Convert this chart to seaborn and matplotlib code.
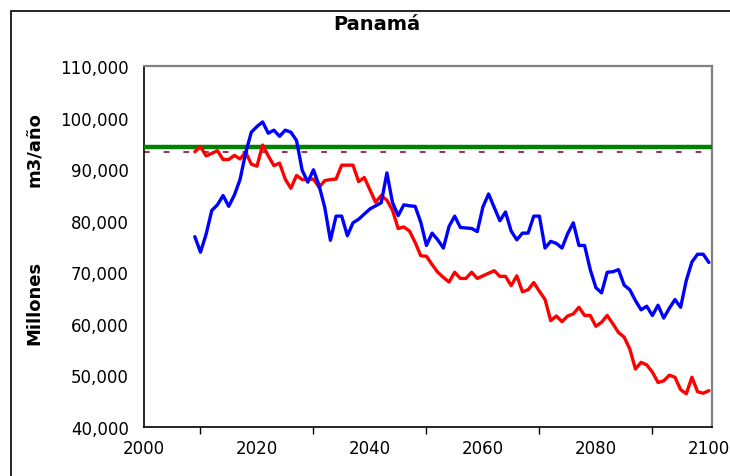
import numpy as np
import pandas as pd
import seaborn as sns
import matplotlib.pyplot as plt
from matplotlib.patches import Rectangle
from matplotlib.ticker import FuncFormatter, MultipleLocator

sns.set_theme(style="white")
plt.rcParams['font.family'] = ['DejaVu Sans']
plt.rcParams['text.color'] = 'black'

years = list(range(2009, 2101))

blue_vals = [76900, 73900, 77400, 82000, 83100, 84900, 82800, 85000, 88000, 93200,
             97200, 98300, 99200, 97000, 97600, 96400, 97600, 97200, 95600, 89800,
             87500, 89900, 86800, 82600, 76200, 80900, 80900, 77100, 79600, 80300,
             81300, 82300, 82900, 83500, 89300, 83500, 81000, 83100, 82900, 82800,
             79700, 75200, 77600, 76300, 74700, 78900, 80900, 78700, 78600, 78500,
             77900, 82700, 85200, 82600, 80000, 81700, 78000, 76300, 77600, 77600,
             80900, 80900, 74700, 76000, 75600, 74700, 77500, 79600, 75200, 75200,
             70500, 67000, 66000, 70000, 70100, 70500, 67500, 66600, 64500, 62700,
             63400, 61600, 63600, 61100, 63000, 64700, 63200, 68400, 72000, 73500,
             73500, 71900]

red_vals = [93400, 94400, 92600, 93100, 93600, 91900, 91900, 92700, 92000, 93300,
            91000, 90600, 94700, 92600, 90700, 91200, 88100, 86300, 88800, 88000,
            88000, 88100, 86500, 87800, 88000, 88100, 90800, 90800, 90800, 87600,
            88400, 86000, 83600, 84900, 84000, 82000, 78500, 78800, 78000, 75800,
            73200, 73100, 71500, 70000, 69000, 68100, 70000, 68800, 68800, 70000,
            68800, 69300, 69800, 70300, 69200, 69200, 67400, 69300, 66200, 66600,
            68000, 66300, 64700, 60600, 61500, 60400, 61500, 61900, 63200, 61600,
            61600, 59500, 60300, 61600, 60000, 58300, 57400, 55100, 51200, 52500,
            52000, 50600, 48600, 48900, 50000, 49600, 47200, 46400, 49600, 46800,
            46500, 47000]

green_level = 94400
purple_level = 93400

df = pd.DataFrame({"year": years, "blue": blue_vals, "red": red_vals})

fig = plt.figure(figsize=(7.30, 4.77), dpi=100)
ax = fig.add_axes([144 / 730, 49.3 / 477, 567.7 / 730, 360.4 / 477])

ax.axhline(purple_level, color="#993366", lw=1.5, linestyle=(0, (5.7 * 0.72 / 1.5, 14 * 0.72 / 1.5)), zorder=2)
ax.axhline(green_level, color="#008000", lw=3.2, zorder=3)
sns.lineplot(data=df, x="year", y="red", color="#FF0000", lw=2.4, ax=ax, zorder=4)
sns.lineplot(data=df, x="year", y="blue", color="#0000FF", lw=2.4, ax=ax, zorder=5)

ax.set_xlim(2000, 2100.5)
ax.set_ylim(40000, 110000)
ax.xaxis.set_major_locator(MultipleLocator(20))
ax.xaxis.set_minor_locator(MultipleLocator(10))
ax.yaxis.set_major_locator(MultipleLocator(10000))
ax.yaxis.set_major_formatter(FuncFormatter(lambda v, p: f"{v:,.0f}"))
ax.tick_params(axis="both", which="both", direction="out", colors="black",
               labelsize=12, length=5, width=1)
ax.tick_params(axis="y", pad=6)
ax.tick_params(axis="x", pad=4)
ax.tick_params(axis="x", which="minor", bottom=True, length=5, width=1)
ax.set_xlabel("")
ax.set_ylabel("")

for s in ["left", "bottom"]:
    ax.spines[s].set_color("black")
    ax.spines[s].set_linewidth(1.2)
for s in ["top", "right"]:
    ax.spines[s].set_color("#808080")
    ax.spines[s].set_linewidth(1.6)

fig.text(377 / 730, 1 - 24 / 477, "Panamá", ha="center", va="center",
         fontsize=14, fontweight="bold", color="black")
fig.text(34 / 730, 1 - 150 / 477, "m3/año", rotation=90, ha="center", va="center",
         fontsize=13, fontweight="bold", color="black")
fig.text(34 / 730, 1 - 303 / 477, "Millones", rotation=90, ha="center", va="center",
         fontsize=13, fontweight="bold", color="black")

fig.patches.append(Rectangle((11 / 730, -0.05), 1.1, 1 - 12 / 477 + 0.05,
                             transform=fig.transFigure, fill=False,
                             edgecolor="black", lw=1.2))

fig.savefig("out.png", dpi=100)
